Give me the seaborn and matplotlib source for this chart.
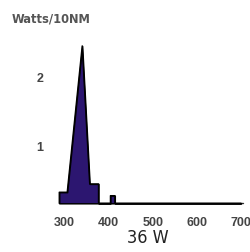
import matplotlib
matplotlib.use("Agg")
import matplotlib.pyplot as plt
import seaborn as sns
import pandas as pd

# Spectrum outline (wavelength nm, Watts/10nm)
wavelengths = [288, 288, 306, 340, 357, 357, 377, 377, 404, 404, 414, 414, 700]
watts = [0.17, 0.33, 0.33, 2.45, 0.45, 0.45, 0.45, 0.17, 0.17, 0.28, 0.28, 0.17, 0.17]
x_ticks = [300, 400, 500, 600, 700]
y_ticks = [1, 2]
y_label = "Watts/10NM"
x_label = "36 W"
baseline = 0.17

sns.set_theme(style="white")
plt.rcParams['font.family'] = ['Liberation Sans', 'DejaVu Sans']

df = pd.DataFrame({"wl": wavelengths, "w": watts})

fig = plt.figure(figsize=(2.51, 2.53), dpi=100)
ax = fig.add_axes([50/251, 1 - 206/253, 195/251, 166/253])

ax.fill_between(df["wl"], baseline, df["w"], color="#2c1670", edgecolor="black", linewidth=1.0, zorder=2)
sns.lineplot(data=df, x="wl", y="w", ax=ax, color="black", linewidth=1.0, sort=False, estimator=None, zorder=3)
ax.plot([288, 705], [baseline, baseline], color="#333333", linewidth=1.0, zorder=1)

ax.set_xlim(267, 709)
ax.set_ylim(0.145, 2.55)
ax.set_xticks(x_ticks)
ax.set_yticks(y_ticks)
ax.tick_params(axis="both", length=0, labelsize=9, labelcolor="#444444")
ax.tick_params(axis="x", pad=8)
ax.tick_params(axis="y", pad=5)
for lbl in ax.get_xticklabels() + ax.get_yticklabels():
    lbl.set_fontweight("bold")
for s in ax.spines.values():
    s.set_visible(False)
ax.set_ylabel("")
ax.set_xlabel(x_label, fontsize=13, color="#222222", labelpad=0,
              family=['DejaVu Sans'], fontstretch='condensed')

fig.text(12/251, 1 - 19/253, y_label, fontsize=8.3, fontweight="bold", color="#555555",
         ha="left", va="center", family=['DejaVu Sans'])

fig.savefig("out.png", dpi=100)
